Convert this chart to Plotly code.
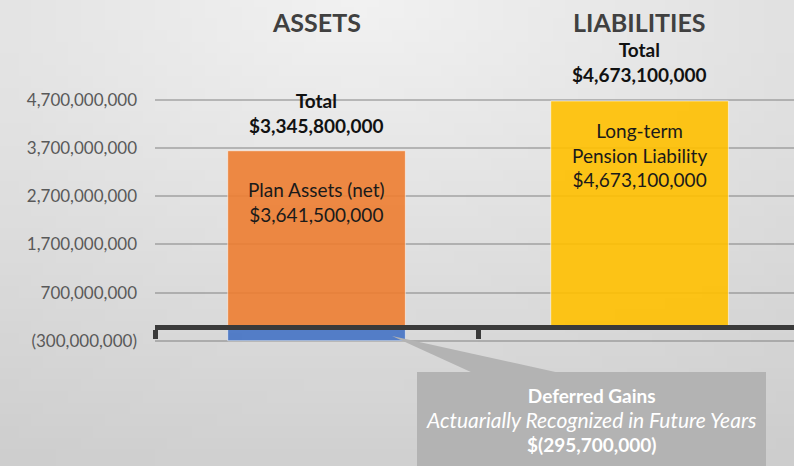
import base64
import math
import struct
import zlib

import plotly.graph_objects as go

# ── Data ─────────────────────────────────────────────────────────
categories = ["ASSETS", "LIABILITIES"]
plan_assets = [3641500000, None]
deferred_gains = [-295700000, None]
pension_liability = [None, 4673100000]

y_ticks = [-300000000, 700000000, 1700000000, 2700000000, 3700000000, 4700000000]
y_tick_text = ["(300,000,000)", "700,000,000", "1,700,000,000",
               "2,700,000,000", "3,700,000,000", "4,700,000,000"]

# ── Style ────────────────────────────────────────────────────────
FONT = "Lato"
ORANGE = "rgba(237,125,49,0.9)"
YELLOW = "rgba(255,192,0,0.9)"
BLUE = "rgba(68,114,196,0.9)"
CALLOUT = "#b3b3b3"

W, H = 794, 466
L_MARGIN = 155
PLOT_W = W - L_MARGIN
PX_PER_UNIT = 48.26 / 1e9     # pixels per dollar
ZERO_PX = 326.5               # pixel row of the zero line


def px_x(px):
    return (px - L_MARGIN) / PLOT_W


def px_y(py):
    return 1 - py / H


def money(v):
    return f"${v:,.0f}" if v >= 0 else f"$({-v:,.0f})"


def gradient_png(w=64, h=40):
    """Small grey radial gradient used as the page background."""
    raw = b""
    for j in range(h):
        row = bytearray([0])
        for i in range(w):
            d = math.hypot(i / (w - 1) - 0.45, 1.1 * j / (h - 1))
            v = max(0, min(255, int(242 - 30 * d)))
            row += bytes([v, v, v])
        raw += bytes(row)

    def chunk(tag, data):
        c = struct.pack(">I", len(data)) + tag + data
        return c + struct.pack(">I", zlib.crc32(tag + data) & 0xFFFFFFFF)

    png = b"\x89PNG\r\n\x1a\n"
    png += chunk(b"IHDR", struct.pack(">IIBBBBB", w, h, 8, 2, 0, 0, 0))
    png += chunk(b"IDAT", zlib.compress(raw, 9))
    png += chunk(b"IEND", b"")
    return "data:image/png;base64," + base64.b64encode(png).decode()


# ── Figure ───────────────────────────────────────────────────────
bar_line = dict(color="rgba(255,255,255,0.55)", width=1)
fig = go.Figure()
fig.add_trace(go.Bar(x=categories, y=plan_assets, marker=dict(color=ORANGE, line=bar_line)))
fig.add_trace(go.Bar(x=categories, y=deferred_gains, marker=dict(color=BLUE, line=bar_line)))
fig.add_trace(go.Bar(x=categories, y=pension_liability, marker=dict(color=YELLOW, line=bar_line)))

y_max = ZERO_PX / PX_PER_UNIT
y_min = -(H - ZERO_PX) / PX_PER_UNIT

fig.update_layout(
    width=W, height=H,
    margin=dict(l=L_MARGIN, r=0, t=0, b=0),
    paper_bgcolor="#e0e0e0",
    plot_bgcolor="rgba(0,0,0,0)",
    barmode="relative",
    bargap=0.45,
    showlegend=False,
    font=dict(family=FONT, color="#595959"),
    images=[dict(
        source=gradient_png(), xref="paper", yref="paper",
        x=px_x(0), y=1, sizex=W / PLOT_W, sizey=1,
        xanchor="left", yanchor="top", sizing="stretch", layer="below",
    )],
)

# category 1 spans x 155..478 px, so the second one runs past the right edge
fig.update_xaxes(
    range=[-0.5, 1.478],
    anchor="free", position=px_y(ZERO_PX),
    showline=True, linewidth=5, linecolor="#3a3a3a",
    ticks="outside", tickson="boundaries", ticklen=9, tickwidth=5, tickcolor="#3a3a3a",
    showticklabels=False, showgrid=False,
)
fig.update_yaxes(
    range=[y_min, y_max],
    tickmode="array", tickvals=y_ticks, ticktext=y_tick_text,
    tickfont=dict(family=FONT, size=17, color="#595959"),
    ticks="", ticklabelstandoff=17,
    showgrid=True, gridcolor="rgba(120,120,120,0.45)", gridwidth=2,
    zeroline=False, showline=False,
)

# headers
for cat in categories:
    fig.add_annotation(x=cat, xref="x", y=px_y(22), yref="paper", yanchor="middle",
                       text=f"<b>{cat}</b>", showarrow=False,
                       font=dict(family=FONT, size=25, color="#404040"))

# totals above each column
asset_total = plan_assets[0] + deferred_gains[0]
liab_total = pension_liability[1]
fig.add_annotation(x=categories[0], y=plan_assets[0], yanchor="bottom", yshift=12,
                   text=f"<b>Total<br>{money(asset_total)}</b>", showarrow=False,
                   font=dict(family=FONT, size=19, color="#111111"))
fig.add_annotation(x=categories[1], y=pension_liability[1], yanchor="bottom", yshift=13,
                   text=f"<b>Total<br>{money(liab_total)}</b>", showarrow=False,
                   font=dict(family=FONT, size=19, color="#111111"))

# labels inside bars
fig.add_annotation(x=categories[0], y=plan_assets[0], yanchor="top", yshift=-25,
                   text=f"Plan Assets (net)<br>{money(plan_assets[0])}", showarrow=False,
                   font=dict(family=FONT, size=19, color="#1a1a1a"))
fig.add_annotation(x=categories[1], y=pension_liability[1], yanchor="top", yshift=-16,
                   text=f"Long-term<br>Pension Liability<br>{money(pension_liability[1])}",
                   showarrow=False, font=dict(family=FONT, size=19, color="#1a1a1a"))

# callout for the deferred gains
fig.add_shape(type="path", xref="paper", yref="paper", layer="above",
              path=f"M {px_x(392)} {px_y(336)} L {px_x(473)} {px_y(373)} "
                   f"L {px_x(560)} {px_y(373)} Z",
              fillcolor=CALLOUT, line=dict(width=0))
fig.add_shape(type="rect", xref="paper", yref="paper", layer="above",
              x0=px_x(417), x1=px_x(766), y0=px_y(372), y1=px_y(470),
              fillcolor=CALLOUT, line=dict(width=0))
fig.add_annotation(xref="paper", yref="paper", x=px_x(591), y=px_y(420),
                   xanchor="center", yanchor="middle",
                   text=("<b>Deferred Gains</b><br>"
                         "<i><span style='font-size:21px'>Actuarially Recognized in Future Years</span></i>"
                         f"<br><b>{money(deferred_gains[0])}</b>"),
                   showarrow=False, font=dict(family=FONT, size=19, color="white"))

fig.write_html("out.html", config={"displayModeBar": False},
               post_script="document.body.style.margin='0';")
